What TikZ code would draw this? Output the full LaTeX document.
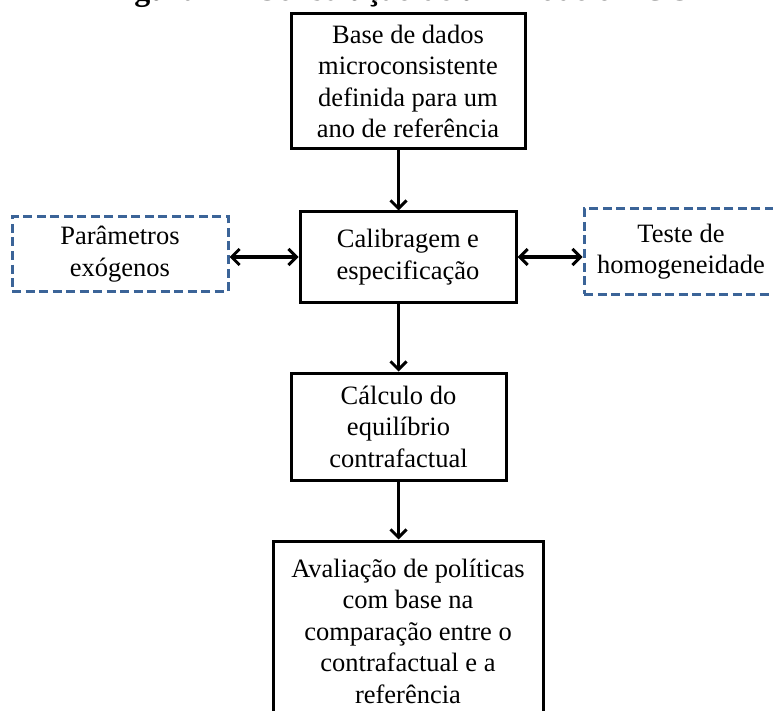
\documentclass[tikz,border=0pt]{standalone}
\usepackage{fontspec}
\setmainfont{Liberation Serif}
\usetikzlibrary{positioning,arrows.meta}
\definecolor{dashblue}{RGB}{59,100,152}
\newcommand{\boxfont}{\fontsize{26.5}{31.5}\selectfont}
\newcommand{\titlefont}{\fontsize{32}{38}\selectfont\bfseries}

\begin{document}
\begin{tikzpicture}[
    box/.style={draw, line width=3pt, align=center, inner sep=0pt, font=\boxfont},
    dbox/.style={box, draw=dashblue, dash pattern=on 9pt off 4.5pt},
    arr/.style={line width=3pt, -{Straight Barb[length=8pt,width=16pt]}},
    darr/.style={line width=3pt, {Straight Barb[length=8pt,width=16pt]}-{Straight Barb[length=8pt,width=16pt]}}
  ]
  \useasboundingbox (0,0) rectangle (773pt,-711pt);

  \node (title) [anchor=base, font=\titlefont] at (398pt,-1pt) {Figura 1 – Construção de um modelo EGC};
  \node (data) [box, minimum width=234pt, minimum height=135pt] at (408pt,-81.5pt)
    {Base de dados\\microconsistente\\definida para um\\ano de referência};
  \node (calib) [box, minimum width=216pt, minimum height=90pt, below=60pt of data]
    {Calibragem e\\especificação};
  \node (calc) [box, minimum width=215pt, minimum height=107pt, below=68pt of calib, xshift=-9.5pt]
    {Cálculo do\\equilíbrio\\contrafactual};
  \node (aval) [box, minimum width=270pt, minimum height=180pt, below=58pt of calc, xshift=9.5pt]
    {Avaliação de políticas\\com base na\\comparação entre o\\contrafactual e a\\referência};
  \node (param) [dbox, minimum width=216pt, minimum height=74pt, left=69pt of calib, yshift=3pt]
    {Parâmetros\\exógenos};
  \node (teste) [dbox, minimum width=194pt, minimum height=85pt, right=65pt of calib, yshift=5.5pt]
    {Teste de\\homogeneidade};

  \draw[arr] (data.south -| calc.north) -- (calib.north -| calc.north);
  \draw[arr] (calib.south -| calc.north) -- (calc.north);
  \draw[arr] (calc.south) -- (aval.north -| calc.south);
  \draw[darr] (param.east |- calib.west) -- (calib.west);
  \draw[darr] (calib.east) -- (teste.west |- calib.east);
\end{tikzpicture}
\end{document}
